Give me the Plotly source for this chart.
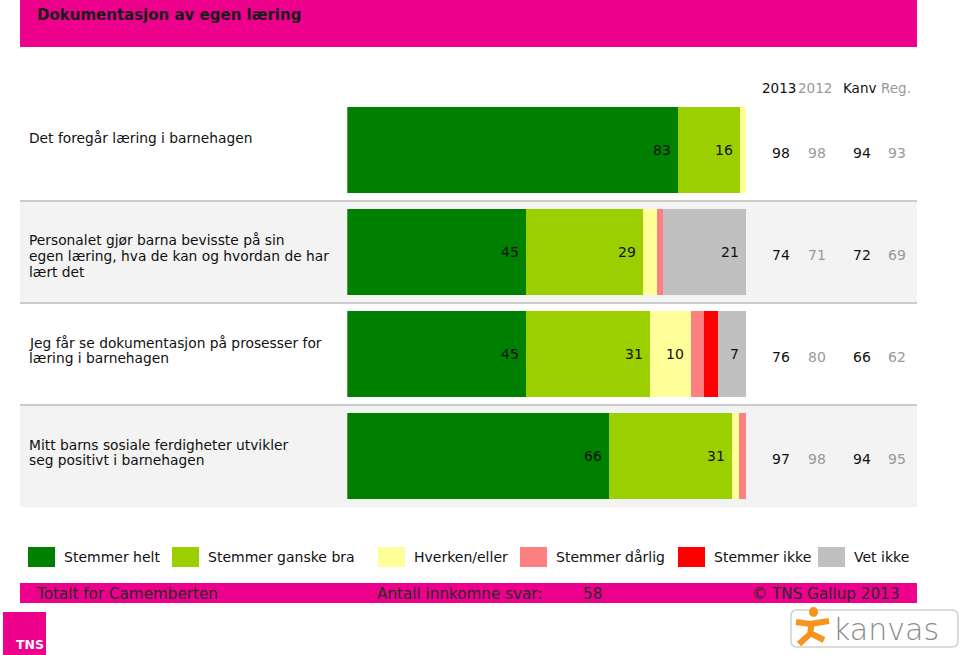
import plotly.graph_objects as go

# ---------------- data ----------------
title = "Dokumentasjon av egen læring"
questions = [
    "Det foregår læring i barnehagen",
    "Personalet gjør barna bevisste på sin<br>egen læring, hva de kan og hvordan de har<br>lært det",
    "Jeg får se dokumentasjon på prosesser for<br>læring i barnehagen",
    "Mitt barns sosiale ferdigheter utvikler<br>seg positivt i barnehagen",
]
series_names = ["Stemmer helt", "Stemmer ganske bra", "Hverken/eller",
                "Stemmer dårlig", "Stemmer ikke", "Vet ikke"]
series_colors = ["#008000", "#9ccf00", "#ffff99", "#ff8080", "#ff0000", "#c0c0c0"]

stemmer_helt = [82.8, 44.8, 44.8, 65.5]
stemmer_ganske_bra = [15.5, 29.3, 31.0, 31.0]
hverken_eller = [1.7, 3.4, 10.3, 1.7]
stemmer_darlig = [0.0, 1.7, 3.4, 1.7]
stemmer_ikke = [0.0, 0.0, 3.4, 0.0]
vet_ikke = [0.0, 20.7, 6.9, 0.0]
series_values = [stemmer_helt, stemmer_ganske_bra, hverken_eller,
                 stemmer_darlig, stemmer_ikke, vet_ikke]

col_headers = ["2013", "2012", "Kanv", "Reg."]
val_2013 = [98, 74, 76, 97]
val_2012 = [98, 71, 80, 98]
val_kanv = [94, 72, 66, 94]
val_reg = [93, 69, 62, 95]
col_values = [val_2013, val_2012, val_kanv, val_reg]

footer_left = "Totalt for Camemberten"
footer_mid = "Antall innkomne svar:"
n_answers = "58"
footer_right = "© TNS Gallup 2013"

# ---------------- layout helpers ----------------
W, H = 960, 655
MAGENTA = "#ec008c"
FONT = "DejaVu Sans"


def px(x):
    return x / W


def py(y):
    return 1 - y / H


cats = [q.replace("<br>", " ") for q in questions]

fig = go.Figure()
for name, color, vals in zip(series_names, series_colors, series_values):
    fig.add_trace(go.Bar(
        y=cats, x=vals, name=name, orientation="h",
        marker=dict(color=color, line=dict(width=0)),
        width=0.85,
        text=[f"{v:.0f}\u00a0" if v >= 5 else "" for v in vals],
        textposition="inside", insidetextanchor="end",
        textangle=0, constraintext="none",
        insidetextfont=dict(family=FONT, size=14, color="#111111"),
        showlegend=False, hoverinfo="x+name",
    ))

shapes = []
annotations = []

# title bar
shapes.append(dict(type="rect", xref="paper", yref="paper",
                   x0=px(20), x1=px(917), y0=py(47), y1=py(0),
                   fillcolor=MAGENTA, line=dict(width=0), layer="below"))
annotations.append(dict(text="<b>" + title + "</b>", xref="paper", yref="paper",
                        x=px(35), y=py(15), xanchor="left", yanchor="middle",
                        showarrow=False, font=dict(family=FONT, size=15, color="#1a1a1a")))

# column headers
head_x = [779, 814.5, 859.5, 896]
head_col = ["#111111", "#999999", "#111111", "#999999"]
for t, x, c in zip(col_headers, head_x, head_col):
    annotations.append(dict(text=t, xref="paper", yref="paper", x=px(x), y=py(88),
                            xanchor="center", yanchor="middle", showarrow=False,
                            font=dict(family=FONT, size=13.5, color=c)))

# row backgrounds, separators, labels and comparison values
val_x = [781, 816.7, 861.7, 897.3]
val_col = ["#111111", "#999999", "#111111", "#999999"]
for i, q in enumerate(questions):
    if i % 2 == 1:
        shapes.append(dict(type="rect", xref="paper", yref="y",
                           x0=px(20), x1=px(917), y0=i - 0.5, y1=i + 0.5,
                           fillcolor="#f3f3f3", line=dict(width=0), layer="below"))
    if i > 0:
        shapes.append(dict(type="line", xref="paper", yref="y",
                           x0=px(20), x1=px(917), y0=i - 0.5, y1=i - 0.5,
                           line=dict(color="#bdbdbd", width=1.5), layer="below"))
    for k, line in enumerate(q.split("<br>")):
        annotations.append(dict(text=line, xref="paper", yref="y", x=px(27),
                                y=i - 0.5 + (39.5 + 15.5 * k) / 102,
                                xanchor="left", yanchor="middle", showarrow=False,
                                font=dict(family=FONT, size=13.8, color="#111111")))
    for vals, x, c in zip(col_values, val_x, val_col):
        annotations.append(dict(text=str(vals[i]), xref="paper", yref="y", x=px(x),
                                y=i, yshift=-3, xanchor="center", yanchor="middle",
                                showarrow=False, font=dict(family=FONT, size=14, color=c)))

# custom legend
leg_x = [28, 172, 378, 520, 678, 818]
for name, color, x in zip(series_names, series_colors, leg_x):
    shapes.append(dict(type="rect", xref="paper", yref="paper",
                       x0=px(x), x1=px(x + 27), y0=py(567), y1=py(547),
                       fillcolor=color, line=dict(width=0)))
    annotations.append(dict(text=name, xref="paper", yref="paper", x=px(x + 34), y=py(557),
                            xanchor="left", yanchor="middle", showarrow=False,
                            font=dict(family=FONT, size=14, color="#111111")))

# footer bar
shapes.append(dict(type="rect", xref="paper", yref="paper",
                   x0=px(20), x1=px(917), y0=py(603), y1=py(583),
                   fillcolor=MAGENTA, line=dict(width=0)))
for t, x, anc in [(footer_left, 34, "left"), (footer_mid, 375, "left"),
                  (n_answers, 581, "left"), (footer_right, 901, "right")]:
    annotations.append(dict(text=t, xref="paper", yref="paper", x=px(x), y=py(594),
                            xanchor=anc, yanchor="middle", showarrow=False,
                            font=dict(family=FONT, size=15.2, color="#2a2a2a")))

# TNS logo
shapes.append(dict(type="rect", xref="paper", yref="paper",
                   x0=px(3), x1=px(46), y0=py(655), y1=py(612),
                   fillcolor=MAGENTA, line=dict(width=0)))
annotations.append(dict(text="<b>TNS</b>", xref="paper", yref="paper", x=px(14), y=py(644),
                        xanchor="left", yanchor="middle", showarrow=False,
                        font=dict(family=FONT, size=12.5, color="white")))

# Kanvas logo
shapes.append(dict(type="path", xref="paper", yref="paper",
                   path=(f"M {px(797)},{py(610)} L {px(952)},{py(610)} "
                         f"Q {px(958)},{py(610)} {px(958)},{py(616)} L {px(958)},{py(641)} "
                         f"Q {px(958)},{py(647)} {px(952)},{py(647)} L {px(797)},{py(647)} "
                         f"Q {px(791)},{py(647)} {px(791)},{py(641)} L {px(791)},{py(616)} "
                         f"Q {px(791)},{py(610)} {px(797)},{py(610)} Z"),
                   fillcolor="white", line=dict(color="#d0d0d0", width=1.5)))
ORANGE = "#f7941d"
shapes.append(dict(type="circle", xref="paper", yref="paper",
                   x0=px(809), x1=px(818), y0=py(617), y1=py(607),
                   fillcolor=ORANGE, line=dict(width=0)))
shapes.append(dict(type="path", xref="paper", yref="paper",
                   path=(f"M {px(796)},{py(622)} L {px(810)},{py(624)} L {px(829)},{py(621)} "
                         f"M {px(812)},{py(622)} L {px(810)},{py(634)} L {px(799)},{py(644)} "
                         f"M {px(810)},{py(633)} L {px(824)},{py(640)}"),
                   line=dict(color=ORANGE, width=6)))
annotations.append(dict(text="kanvas", xref="paper", yref="paper", x=px(831), y=py(629),
                        xanchor="left", yanchor="middle", showarrow=False,
                        font=dict(family="DejaVu Sans", size=30, color="#8a8a8a", weight=200)))

fig.update_layout(
    width=W, height=H, margin=dict(l=0, r=0, t=0, b=0),
    barmode="stack", bargap=0,
    paper_bgcolor="white", plot_bgcolor="rgba(0,0,0,0)",
    xaxis=dict(domain=[px(347.3), px(746.7)], range=[0, 100], visible=False,
               fixedrange=True),
    yaxis=dict(domain=[py(507), py(99)], range=[3.5, -0.5], visible=False,
               type="category", categoryorder="array", categoryarray=cats,
               fixedrange=True),
    shapes=shapes, annotations=annotations,
    font=dict(family=FONT),
)

fig.write_html("out.html", config={"displayModeBar": False},
               post_script="document.body.style.margin='0';document.body.style.overflow='hidden';")
